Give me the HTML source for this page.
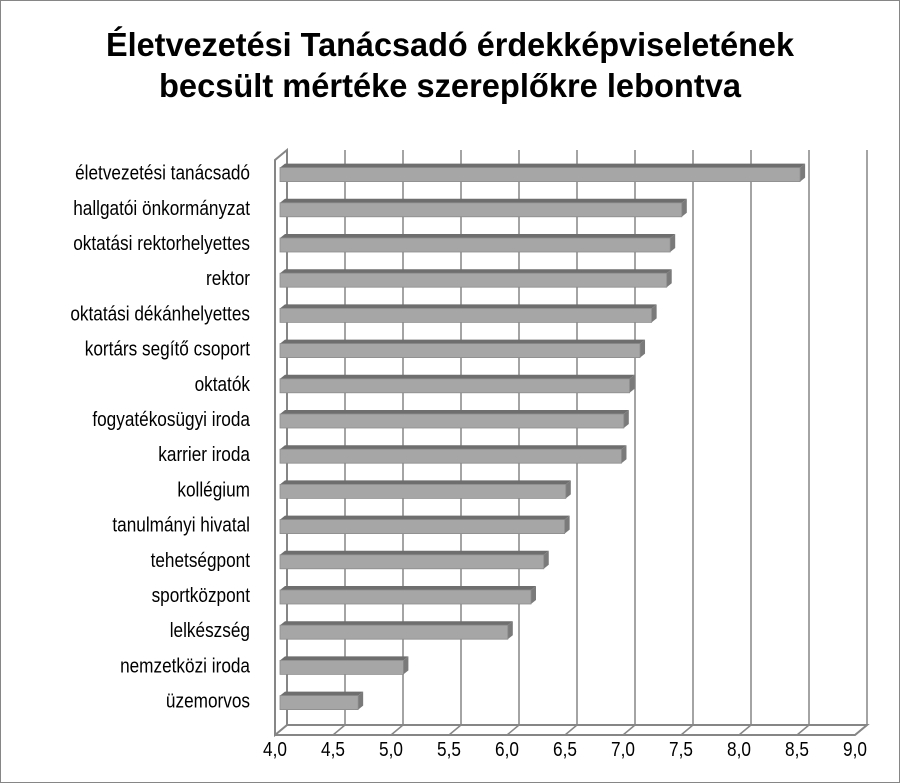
<!DOCTYPE html>
<html><head><meta charset="utf-8"><style>
html,body{margin:0;padding:0;background:#fff}
svg{display:block;font-family:"Liberation Sans Narrow","Liberation Sans",sans-serif}
</style></head><body>
<svg id="chart" width="900" height="783" viewBox="0 0 900 783" xmlns="http://www.w3.org/2000/svg">
<rect x="0.5" y="0.5" width="899" height="782" fill="#fff" stroke="#868686"/>
<g>
<text x="450" y="56" text-anchor="middle" font-size="33" font-weight="bold" textLength="688" lengthAdjust="spacingAndGlyphs" fill="#000">Életvezetési Tanácsadó érdekképviseletének</text>
<text x="450" y="97" text-anchor="middle" font-size="33" font-weight="bold" textLength="582" lengthAdjust="spacingAndGlyphs" fill="#000">becsült mértéke szereplőkre lebontva</text>
</g>
<g id="walls"></g><g id="grid"></g><g id="bars"></g><g id="labels"></g><g id="ticks"></g>
</svg>
<script>
const categories=["életvezetési tanácsadó","hallgatói önkormányzat","oktatási rektorhelyettes","rektor","oktatási dékánhelyettes","kortárs segítő csoport","oktatók","fogyatékosügyi iroda","karrier iroda","kollégium","tanulmányi hivatal","tehetségpont","sportközpont","lelkészség","nemzetközi iroda","üzemorvos"];
const values=[8.57,7.55,7.45,7.42,7.29,7.19,7.1,7.05,7.03,6.55,6.54,6.36,6.25,6.05,5.15,4.76];
const tickLabels=["4,0","4,5","5,0","5,5","6,0","6,5","7,0","7,5","8,0","8,5","9,0"];
const ticks=[4,4.5,5,5.5,6,6.5,7,7.5,8,8.5,9];
const NS="http://www.w3.org/2000/svg";
const xMin=4,xMax=9,fx0=275,fx1=855,dx=12,dy=10,wallTop=150,floorY=735;
const X=v=>fx0+(v-xMin)/(xMax-xMin)*(fx1-fx0);
const rowTop=155,rowH=35.2;
const Y=i=>rowTop+rowH*(i+0.5);
const SX=0.86;
function mk(tag,attrs,parent){const e=document.createElementNS(NS,tag);for(const k in attrs)e.setAttribute(k,attrs[k]);document.getElementById(parent).appendChild(e);return e;}
let w=mk('path',{d:`M${fx0} ${floorY} L${fx0} ${wallTop+dy} L${fx0+dx} ${wallTop} L${fx0+dx} ${floorY-dy} Z`,fill:'none',stroke:'#868686','stroke-width':2},'walls');


let f=mk('path',{d:`M${fx0} ${floorY} L${fx1} ${floorY} L${fx1+dx} ${floorY-dy} L${fx0+dx} ${floorY-dy}`,fill:'none',stroke:'#868686','stroke-width':2},'walls');


ticks.forEach((t,i)=>{
  const x=X(t);
  if(i>0){
    const g=mk('path',{d:`M${x} ${floorY} L${x+dx} ${floorY-dy} L${x+dx} ${wallTop}`,fill:'none',stroke:'#868686','stroke-width':1.5},'grid');
    
    
  }
  const tl=mk('text',{x:x/SX,y:756,'text-anchor':'middle','font-size':20,fill:'#000',transform:`scale(${SX},1)`},'ticks');
  tl.textContent=tickLabels[i];
  
  
});
const bh=14,bdx=5,bdy=4;
values.forEach((v,i)=>{
  const y=Y(i)-bh/2+2,x0=fx0+5,x1=X(v)-bdx;
  const g=mk('g',{},'bars');
  
  
  const tp=document.createElementNS(NS,'path');tp.setAttribute('d',`M${x0} ${y} L${x0+bdx} ${y-bdy} L${x1+bdx} ${y-bdy} L${x1} ${y} Z`);tp.setAttribute('fill','#6e6e6e');g.appendChild(tp);
  const sd=document.createElementNS(NS,'path');sd.setAttribute('d',`M${x1} ${y} L${x1+bdx} ${y-bdy} L${x1+bdx} ${y+bh-bdy} L${x1} ${y+bh} Z`);sd.setAttribute('fill','#7a7a7a');g.appendChild(sd);
  const fr=document.createElementNS(NS,'rect');fr.setAttribute('x',x0);fr.setAttribute('y',y);fr.setAttribute('width',x1-x0);fr.setAttribute('height',bh);fr.setAttribute('fill','#a6a6a6');fr.setAttribute('stroke','#8c8c8c');fr.setAttribute('stroke-width','0.8');g.appendChild(fr);
  const lb=mk('text',{x:250/SX,y:Y(i)+7,'text-anchor':'end','font-size':20,fill:'#000',transform:`scale(${SX},1)`},'labels');
  lb.textContent=categories[i];
  
  
});
</script>
</body></html>
